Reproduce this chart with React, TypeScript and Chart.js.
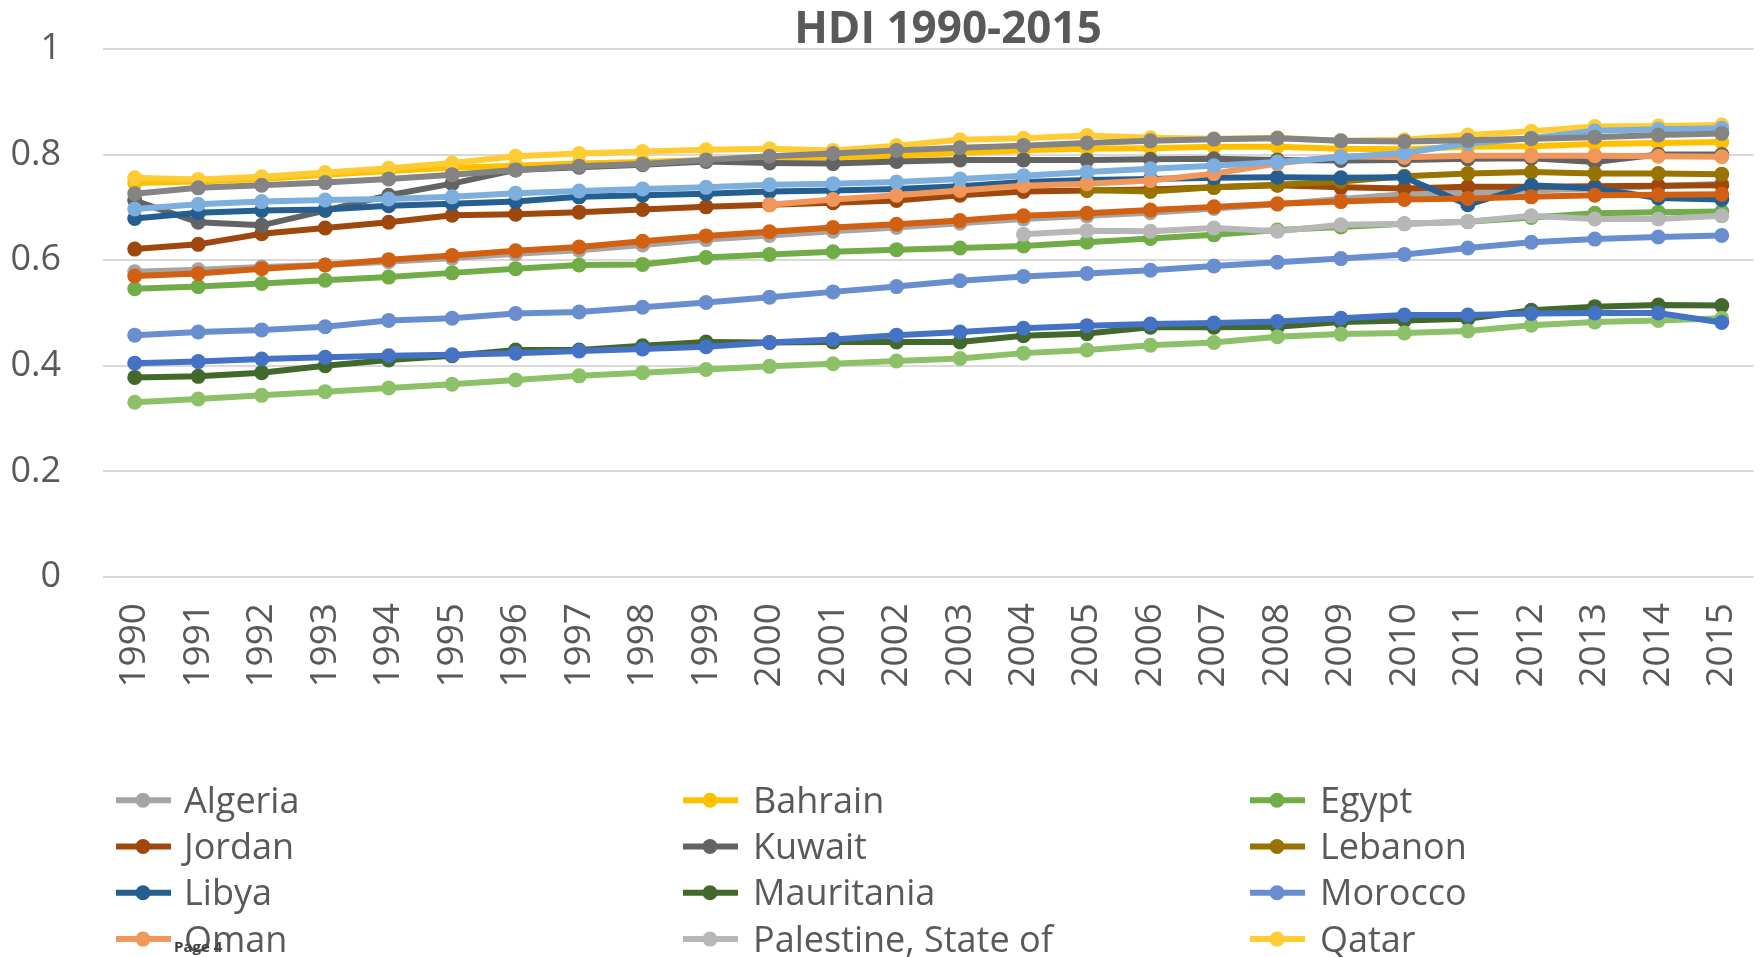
import React, { useEffect, useRef } from "react";
import { Chart, registerables } from "chart.js";

Chart.register(...registerables);

// ---- Data ----
const years = [
  "1990", "1991", "1992", "1993", "1994", "1995", "1996", "1997", "1998", "1999",
  "2000", "2001", "2002", "2003", "2004", "2005", "2006", "2007", "2008", "2009",
  "2010", "2011", "2012", "2013", "2014", "2015",
];

const yTickValues = [0, 0.2, 0.4, 0.6, 0.8, 1];
const yTickLabels = ["0", "0.2", "0.4", "0.6", "0.8", "1"];

const algeria = [0.578, 0.582, 0.587, 0.591, 0.597, 0.604, 0.612, 0.619, 0.629, 0.639, 0.647, 0.655, 0.662, 0.670, 0.678, 0.684, 0.690, 0.698, 0.706, 0.716, 0.725, 0.728, 0.732, 0.736, 0.740, 0.745];
const bahrain = [0.746, 0.749, 0.754, 0.762, 0.769, 0.775, 0.779, 0.783, 0.786, 0.790, 0.795, 0.795, 0.798, 0.803, 0.808, 0.811, 0.812, 0.815, 0.815, 0.811, 0.810, 0.815, 0.816, 0.820, 0.822, 0.824];
const egypt = [0.546, 0.550, 0.556, 0.562, 0.568, 0.576, 0.584, 0.591, 0.592, 0.605, 0.611, 0.616, 0.620, 0.623, 0.627, 0.634, 0.641, 0.648, 0.657, 0.663, 0.669, 0.673, 0.681, 0.689, 0.691, 0.692];
const jordan = [0.621, 0.630, 0.650, 0.661, 0.672, 0.685, 0.687, 0.691, 0.696, 0.701, 0.705, 0.709, 0.713, 0.723, 0.730, 0.732, 0.734, 0.738, 0.742, 0.738, 0.736, 0.739, 0.739, 0.740, 0.741, 0.742];
const kuwait = [0.713, 0.672, 0.666, 0.694, 0.723, 0.745, 0.771, 0.776, 0.781, 0.787, 0.784, 0.783, 0.787, 0.790, 0.790, 0.790, 0.791, 0.792, 0.790, 0.789, 0.790, 0.792, 0.793, 0.786, 0.800, 0.800];
const lebanon = [null, null, null, null, null, null, null, null, null, null, null, null, null, null, null, 0.733, 0.730, 0.738, 0.743, 0.749, 0.759, 0.764, 0.767, 0.764, 0.764, 0.763];
const libya = [0.679, 0.690, 0.694, 0.696, 0.703, 0.707, 0.711, 0.720, 0.723, 0.726, 0.730, 0.732, 0.735, 0.740, 0.748, 0.752, 0.754, 0.756, 0.757, 0.756, 0.757, 0.705, 0.742, 0.736, 0.718, 0.715];
const mauritania = [0.378, 0.380, 0.387, 0.400, 0.411, 0.419, 0.430, 0.430, 0.438, 0.445, 0.444, 0.445, 0.445, 0.445, 0.457, 0.461, 0.473, 0.473, 0.474, 0.483, 0.486, 0.489, 0.505, 0.512, 0.515, 0.514];
const morocco = [0.458, 0.464, 0.468, 0.474, 0.486, 0.490, 0.499, 0.502, 0.511, 0.520, 0.530, 0.540, 0.550, 0.561, 0.569, 0.575, 0.581, 0.589, 0.596, 0.603, 0.611, 0.623, 0.634, 0.640, 0.644, 0.647];
const oman = [null, null, null, null, null, null, null, null, null, null, 0.705, 0.715, 0.723, 0.732, 0.741, 0.745, 0.751, 0.764, 0.783, 0.797, 0.795, 0.798, 0.798, 0.798, 0.797, 0.796];
const palestine = [null, null, null, null, null, null, null, null, null, null, null, null, null, null, 0.649, 0.656, 0.655, 0.661, 0.655, 0.667, 0.669, 0.673, 0.684, 0.678, 0.678, 0.684];
const qatar = [0.756, 0.753, 0.758, 0.766, 0.774, 0.784, 0.797, 0.802, 0.806, 0.809, 0.811, 0.808, 0.817, 0.828, 0.831, 0.836, 0.832, 0.830, 0.832, 0.826, 0.828, 0.837, 0.844, 0.853, 0.854, 0.856];
const saudiArabia = [0.697, 0.706, 0.711, 0.714, 0.716, 0.720, 0.727, 0.731, 0.735, 0.738, 0.743, 0.745, 0.748, 0.754, 0.760, 0.767, 0.773, 0.779, 0.786, 0.795, 0.803, 0.821, 0.831, 0.845, 0.848, 0.850];
const sudan = [0.331, 0.337, 0.344, 0.351, 0.358, 0.365, 0.373, 0.381, 0.387, 0.393, 0.399, 0.404, 0.409, 0.414, 0.424, 0.430, 0.439, 0.444, 0.455, 0.460, 0.462, 0.466, 0.477, 0.483, 0.486, 0.490];
const tunisia = [0.570, 0.575, 0.584, 0.591, 0.601, 0.609, 0.618, 0.625, 0.636, 0.646, 0.654, 0.662, 0.668, 0.675, 0.684, 0.689, 0.695, 0.701, 0.707, 0.711, 0.715, 0.717, 0.720, 0.723, 0.724, 0.725];
const uae = [0.726, 0.737, 0.742, 0.747, 0.754, 0.762, 0.771, 0.778, 0.782, 0.790, 0.797, 0.802, 0.808, 0.813, 0.817, 0.822, 0.826, 0.829, 0.831, 0.826, 0.825, 0.827, 0.830, 0.833, 0.837, 0.840];
const yemen = [0.405, 0.408, 0.413, 0.416, 0.419, 0.421, 0.424, 0.428, 0.432, 0.436, 0.444, 0.450, 0.458, 0.464, 0.471, 0.476, 0.479, 0.481, 0.484, 0.490, 0.496, 0.496, 0.499, 0.500, 0.500, 0.482];

const countryNames = [
  "Algeria", "Bahrain", "Egypt", "Jordan", "Kuwait", "Lebanon", "Libya", "Mauritania",
  "Morocco", "Oman", "Palestine, State of", "Qatar", "Saudi Arabia", "Sudan", "Tunisia",
  "United Arab Emirates", "Yemen",
];
const countryValues = [
  algeria, bahrain, egypt, jordan, kuwait, lebanon, libya, mauritania,
  morocco, oman, palestine, qatar, saudiArabia, sudan, tunisia, uae, yemen,
];
const countryColors = [
  "#A5A5A5", "#FFC000", "#70AD47", "#9E480E", "#636363", "#997300", "#255E91", "#43682B",
  "#698ED0", "#F1975A", "#B7B7B7", "#FFCD33", "#7CAFDD", "#8CC168", "#D26012",
  "#848484", "#4472C4",
];

const titleText = "HDI 1990-2015";
const footerText = "Page 4";

const FONT = "'Open Sans', 'Noto Sans', sans-serif";
const TEXT_COLOR = "#595959";

const overlayPlugin = {
  id: "excelOverlay",
  afterDraw(chart: any) {
    const ctx = chart.ctx as CanvasRenderingContext2D;
    ctx.save();
    // Title
    ctx.fillStyle = TEXT_COLOR;
    ctx.font = `bold 44px ${FONT}`;
    ctx.textAlign = "center";
    ctx.textBaseline = "alphabetic";
    ctx.fillText(titleText, 948, 43);

    // Legend (3 columns, rows continue beyond the visible canvas)
    const markerX = [116, 683, 1250];
    const textX = [184, 753, 1320];
    const firstBaseline = 812.7;
    const rowGap = 46.3;
    ctx.font = `36px ${FONT}`;
    ctx.textAlign = "left";
    countryNames.forEach((name, i) => {
      const col = i % 3;
      const row = Math.floor(i / 3);
      const base = firstBaseline + row * rowGap;
      const cy = base - 12.5;
      const color = countryColors[i];
      ctx.strokeStyle = color;
      ctx.lineWidth = 6;
      ctx.lineCap = "butt";
      ctx.beginPath();
      ctx.moveTo(markerX[col], cy);
      ctx.lineTo(markerX[col] + 55, cy);
      ctx.stroke();
      ctx.fillStyle = color;
      ctx.beginPath();
      ctx.arc(markerX[col] + 27, cy, 7.5, 0, Math.PI * 2);
      ctx.fill();
      ctx.fillStyle = TEXT_COLOR;
      ctx.fillText(name, textX[col], base);
    });

    // Page footer text
    ctx.fillStyle = "#404040";
    ctx.font = `bold 15px ${FONT}`;
    ctx.fillText(footerText, 174, 952);
    ctx.restore();
  },
};

export default function App() {
  const canvasRef = useRef<HTMLCanvasElement | null>(null);

  useEffect(() => {
    const canvas = canvasRef.current;
    if (!canvas) return;
    const n = countryNames.length;
    const chart = new Chart(canvas, {
      type: "line",
      data: {
        labels: years,
        datasets: countryNames.map((name, i) => ({
          label: name,
          data: countryValues[i],
          borderColor: countryColors[i],
          backgroundColor: countryColors[i],
          pointBackgroundColor: countryColors[i],
          pointBorderColor: countryColors[i],
          pointBorderWidth: 0,
          borderWidth: 6,
          pointRadius: 7.5,
          pointHoverRadius: 7.5,
          tension: 0,
          spanGaps: false,
          fill: false,
          order: n - i,
        })),
      },
      options: {
        responsive: false,
        animation: false,
        devicePixelRatio: 1,
        layout: {
          padding: { top: 49, right: 7, left: 0, bottom: 250 },
        },
        plugins: {
          legend: { display: false },
          title: { display: false },
          tooltip: { enabled: false },
        },
        scales: {
          x: {
            type: "category",
            offset: true,
            grid: { display: false, drawTicks: false },
            border: { display: false },
            ticks: {
              minRotation: 90,
              maxRotation: 90,
              autoSkip: false,
              padding: 26,
              color: TEXT_COLOR,
              font: { family: FONT, size: 37 },
            },
            afterFit: (scale: any) => {
              scale.height = 130;
              scale.paddingLeft = 0;
              scale.paddingRight = 0;
            },
          },
          y: {
            min: 0,
            max: 1,
            afterBuildTicks: (scale: any) => {
              scale.ticks = yTickValues.map((v) => ({ value: v }));
            },
            grid: { color: "#D9D9D9", lineWidth: 2, drawTicks: false },
            border: { display: false },
            ticks: {
              padding: 42,
              color: TEXT_COLOR,
              font: { family: FONT, size: 36 },
              callback: (value: any) => {
                const idx = yTickValues.findIndex((v) => Math.abs(v - Number(value)) < 1e-9);
                return idx >= 0 ? yTickLabels[idx] : "";
              },
            },
            afterFit: (scale: any) => {
              scale.width = 103;
              scale.paddingTop = 0;
              scale.paddingBottom = 0;
            },
          },
        },
      },
      plugins: [overlayPlugin],
    });
    return () => chart.destroy();
  }, []);

  return (
    <div style={{ position: "fixed", left: 0, top: 0, width: 1761, height: 957, background: "#fff" }}>
      <canvas ref={canvasRef} width={1761} height={957} style={{ display: "block" }} />
    </div>
  );
}
